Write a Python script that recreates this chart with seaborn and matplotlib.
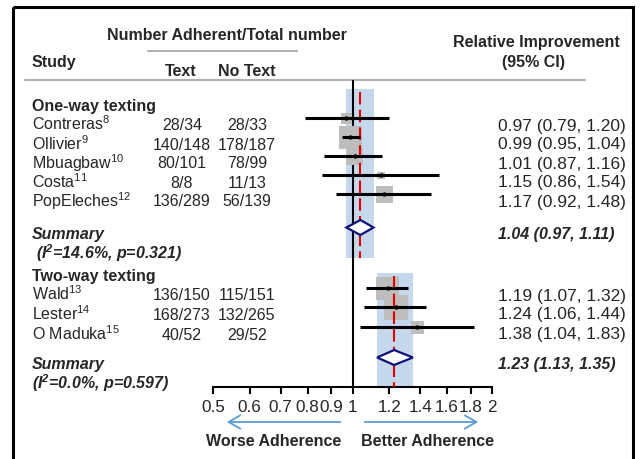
import seaborn as sns
import matplotlib.pyplot as plt
import pandas as pd
from matplotlib.patches import Rectangle

# Dados dos estudos (texting vs no texting)
one_names = ['Contreras', 'Ollivier', 'Mbuagbaw', 'Costa', 'PopEleches']
one_refs = [8, 9, 10, 11, 12]
one_text = ['28/34', '140/148', '80/101', '8/8', '136/289']
one_notext = ['28/33', '178/187', '78/99', '11/13', '56/139']
one_est = [0.97, 0.99, 1.01, 1.15, 1.17]
one_lo = [0.79, 0.95, 0.87, 0.86, 0.92]
one_hi = [1.20, 1.04, 1.16, 1.54, 1.48]
one_weight = [10.7, 39.0, 22.7, 5.0, 22.7]
one_summary = [1.04, 0.97, 1.11]
one_het = '(I$^{2}$=14.6%, p=0.321)'

two_names = ['Wald', 'Lester', 'O Maduka']
two_refs = [13, 14, 15]
two_text = ['136/150', '168/273', '40/52']
two_notext = ['115/151', '132/265', '29/52']
two_est = [1.19, 1.24, 1.38]
two_lo = [1.07, 1.06, 1.04]
two_hi = [1.32, 1.44, 1.83]
two_weight = [39.5, 46.0, 14.5]
two_summary = [1.23, 1.13, 1.35]
two_het = '(I$^{2}$=0.0%, p=0.597)'

ticks = [0.5, 0.6, 0.7, 0.8, 0.9, 1, 1.2, 1.4, 1.6, 1.8, 2]
tick_labels = ['0.5', '0.6', '0.7', '0.8', '0.9', '1', '1.2', '1.4', '1.6', '1.8', '2']

# layout (linhas em pixels)
one_rows = [125, 144, 163, 182, 201]
two_rows = [295, 314, 334]
one_sum_row, two_sum_row = 234, 364
AX_TOP, AX_BOT = 80, 387
OFF = 6.5     # marcas ficam um pouco acima do texto
BASE = 5.5    # centro -> baseline

sns.set_theme(style='white')
plt.rcParams['font.family'] = ['Liberation Sans', 'DejaVu Sans']
plt.rcParams['mathtext.default'] = 'regular'
FS = 11.5

fig = plt.figure(figsize=(6.44, 4.59), dpi=100)
lay = fig.add_axes([0, 0, 1, 1])
lay.set_xlim(0, 644)
lay.set_ylim(459, 0)
lay.axis('off')

ax = fig.add_axes([213 / 644, (459 - AX_BOT) / 459, (492 - 213) / 644, (AX_BOT - AX_TOP) / 459])
ax.set_facecolor('none')
ax.set_xscale('log')
ax.set_xlim(0.5, 2)
ax.set_ylim(AX_BOT, AX_TOP)

df = pd.DataFrame({
    'est': one_est + two_est,
    'lo': one_lo + two_lo,
    'hi': one_hi + two_hi,
    'weight': one_weight + two_weight,
    'y': [r - OFF for r in one_rows + two_rows],
})

# faixas do IC do sumario + linha tracejada
for summ, top, bot in [(one_summary, 89, 258), (two_summary, 273, AX_BOT)]:
    ax.add_patch(Rectangle((summ[1], top), summ[2] - summ[1], bot - top,
                           facecolor='#c5d8ec', edgecolor='none', zorder=0.5))
    ax.vlines(summ[0], top + 3, bot, color='#e00000', lw=1.5,
              linestyles=(0, (6, 2.5)), zorder=3)

ax.vlines(1, AX_TOP, AX_BOT, color='black', lw=1.5, zorder=1)

sns.scatterplot(data=df, x='est', y='y', size='weight', sizes=(0, 660), size_norm=(0, 100),
                marker='s', color='#bdbdbd', linewidth=0, legend=False, ax=ax, zorder=2)
ax.hlines(df['y'], df['lo'], df['hi'], color='black', lw=2.2, zorder=4)
sns.scatterplot(data=df, x='est', y='y', color='black', s=10, linewidth=0,
                legend=False, ax=ax, zorder=5)

for summ, row in [(one_summary, one_sum_row), (two_summary, two_sum_row)]:
    yc = row - OFF
    ax.fill([summ[1], summ[0], summ[2], summ[0]], [yc, yc - 7.5, yc, yc + 7.5],
            facecolor='white', edgecolor='#10107a', lw=1.6, zorder=4)

sns.despine(ax=ax, left=True)
ax.spines['bottom'].set_linewidth(1.5)
ax.spines['bottom'].set_color('black')
ax.set_yticks([])
ax.set_xticks(ticks)
ax.set_xticklabels(tick_labels, fontsize=12.3)
ax.minorticks_off()
ax.tick_params(axis='x', bottom=True, direction='out', length=5, width=1.5, color='black', pad=4)
ax.set_xlabel('')
ax.set_ylabel('')

# cabecalho
lay.text(227, 34 + BASE, 'Number Adherent/Total number', fontsize=FS, fontweight='bold', ha='center', va='baseline')
lay.plot([148, 297], [51, 51], color='#b0b0b0', lw=1.5)
lay.text(32, 61 + BASE, 'Study', fontsize=FS, fontweight='bold', va='baseline')
lay.text(181, 70 + BASE, 'Text', fontsize=FS, fontweight='bold', ha='center', va='baseline')
lay.text(247, 70 + BASE, 'No Text', fontsize=FS, fontweight='bold', ha='center', va='baseline')
lay.text(536, 42 + BASE, 'Relative Improvement', fontsize=FS, fontweight='bold', ha='center', va='baseline')
lay.text(534, 61 + BASE, '(95% CI)', fontsize=FS, fontweight='bold', ha='center', va='baseline')
lay.plot([25, 585], [80, 80], color='#b0b0b0', lw=1.5)

groups = [
    ('One-way texting', 105, one_names, one_refs, one_text, one_notext, one_est, one_lo, one_hi,
     one_rows, one_summary, one_sum_row, one_het, 36),
    ('Two-way texting', 276, two_names, two_refs, two_text, two_notext, two_est, two_lo, two_hi,
     two_rows, two_summary, two_sum_row, two_het, 32),
]
for (title, trow, names, refs, txt, notxt, est, lo, hi, rows, summ, srow, het, hx) in groups:
    lay.text(32, trow + BASE, title, fontsize=FS, fontweight='bold', va='baseline')
    for n, r, a, b, e, l, h, y in zip(names, refs, txt, notxt, est, lo, hi, rows):
        lay.text(32, y + BASE, n + '$^{%d}$' % r, fontsize=FS, va='baseline')
        lay.text(182, y + BASE, a, fontsize=FS, ha='center', va='baseline')
        lay.text(247, y + BASE, b, fontsize=FS, ha='center', va='baseline')
        lay.text(498, y + BASE, f'{e:.2f} ({l:.2f}, {h:.2f})', fontsize=12.5, va='baseline')
    lay.text(32, srow + BASE, 'Summary', fontsize=FS, fontweight='bold', style='italic', va='baseline')
    lay.text(hx, srow + 19 + BASE, het, fontsize=FS, fontweight='bold', style='italic', va='baseline')
    lay.text(498, srow + BASE, f'{summ[0]:.2f} ({summ[1]:.2f}, {summ[2]:.2f})', fontsize=FS,
             fontweight='bold', style='italic', va='baseline')

# setas
arrow = dict(arrowstyle='->,head_length=0.7,head_width=0.4', color='#5b9bd5', lw=1.3)
lay.annotate('', xy=(224, 422), xytext=(343, 422), arrowprops=arrow)
lay.annotate('', xy=(481, 422), xytext=(362, 422), arrowprops=arrow)
lay.text(274, 440 + BASE, 'Worse Adherence', fontsize=FS, fontweight='bold', ha='center', va='baseline')
lay.text(428, 440 + BASE, 'Better Adherence', fontsize=FS, fontweight='bold', ha='center', va='baseline')

# moldura
lay.add_patch(Rectangle((13.5, 6.5), 620, 480, fill=False, edgecolor='black', lw=2.2, clip_on=False))

fig.savefig('out.png', dpi=100)
